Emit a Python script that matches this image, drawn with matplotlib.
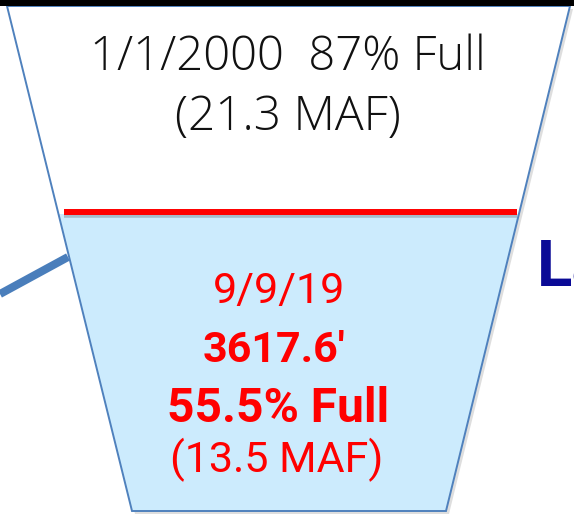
import matplotlib
matplotlib.use("Agg")
import matplotlib.pyplot as plt
from matplotlib.patches import Polygon, Rectangle

# ---- data ----
top_lines = ["1/1/2000  87% Full", "(21.3 MAF)"]
bottom_lines = ["9/9/19", "3617.6\u2032", "55.5% Full", "(13.5 MAF)"]
bottom_bold = [False, True, True, False]
side_label = "La"

# funnel geometry (pixel coords, y down)
W, H = 574, 516
top_y, bot_y = 6, 511
top_l, top_r = 7, 570
bot_l, bot_r = 132, 446
level_y = 212

def xl(y):
    return top_l + (bot_l - top_l) * (y - top_y) / (bot_y - top_y)

def xr(y):
    return top_r - (top_r - bot_r) * (y - top_y) / (bot_y - top_y)

fig = plt.figure(figsize=(W / 100, H / 100), dpi=100)
ax = fig.add_axes([0, 0, 1, 1])
ax.set_xlim(0, W)
ax.set_ylim(H, 0)
ax.axis("off")

# connector line
ax.plot([0, 68], [294, 257], color="#4A7EBB", lw=5.8, solid_capstyle="butt", zorder=1)

# shadow of funnel
sh = 3
ax.add_patch(Polygon([(top_l + sh, top_y + sh), (top_r + sh, top_y + sh),
                      (bot_r + sh, bot_y + sh), (bot_l + sh, bot_y + sh)],
                     closed=True, facecolor="#c8c8c8", edgecolor="none", alpha=0.6, zorder=2))
# funnel white
ax.add_patch(Polygon([(top_l, top_y), (top_r, top_y), (bot_r, bot_y), (bot_l, bot_y)],
                     closed=True, facecolor="white", edgecolor="none", zorder=3))
# water fill
wy = level_y + 2
ax.add_patch(Polygon([(xl(wy), wy), (xr(wy), wy), (bot_r, bot_y), (bot_l, bot_y)],
                     closed=True, facecolor="#CCEBFD", edgecolor="none", zorder=4))
# outline
ax.add_patch(Polygon([(top_l, top_y), (top_r, top_y), (bot_r, bot_y), (bot_l, bot_y)],
                     closed=True, facecolor="none", edgecolor="#4F81BD", lw=1.4, zorder=6))

# red level line with shadow
ax.plot([64, 517], [level_y + 3, level_y + 3], color="#7f8c99", lw=4, alpha=0.5, zorder=5,
        solid_capstyle="butt")
ax.plot([64, 517], [level_y, level_y], color="#FF0000", lw=4.3, zorder=7, solid_capstyle="butt")

# black top bar
ax.add_patch(Rectangle((0, 0), W, 6, facecolor="black", edgecolor="none", zorder=8))

# top text
top_fam = ["Open Sans", "DejaVu Sans"]
ax.text(288, 70, top_lines[0], fontsize=34, fontfamily=top_fam, fontweight="light",
        color="#111111", ha="center", va="baseline", zorder=9)
ax.text(288, 130, top_lines[1], fontsize=34.5, fontfamily=top_fam, fontweight="light",
        color="#111111", ha="center", va="baseline", zorder=9)

# bottom text
red_fam = ["Roboto", "DejaVu Sans"]
base_ys = [303, 362, 422, 472]
xs = [279, 274, 278, 277]
sizes = [31, 31, 34.5, 31]
for txt, b, x, y, s in zip(bottom_lines, bottom_bold, xs, base_ys, sizes):
    ax.text(x, y, txt, fontsize=s, fontfamily=red_fam,
            fontweight="bold" if b else "normal", color="#FF0000",
            ha="center", va="baseline", zorder=9)

ax.text(537, 285, side_label, fontsize=47, fontfamily=["Roboto", "DejaVu Sans"],
        fontweight="bold", color="#0A0A96", ha="left", va="baseline", zorder=9)

fig.savefig("out.png", dpi=100)
